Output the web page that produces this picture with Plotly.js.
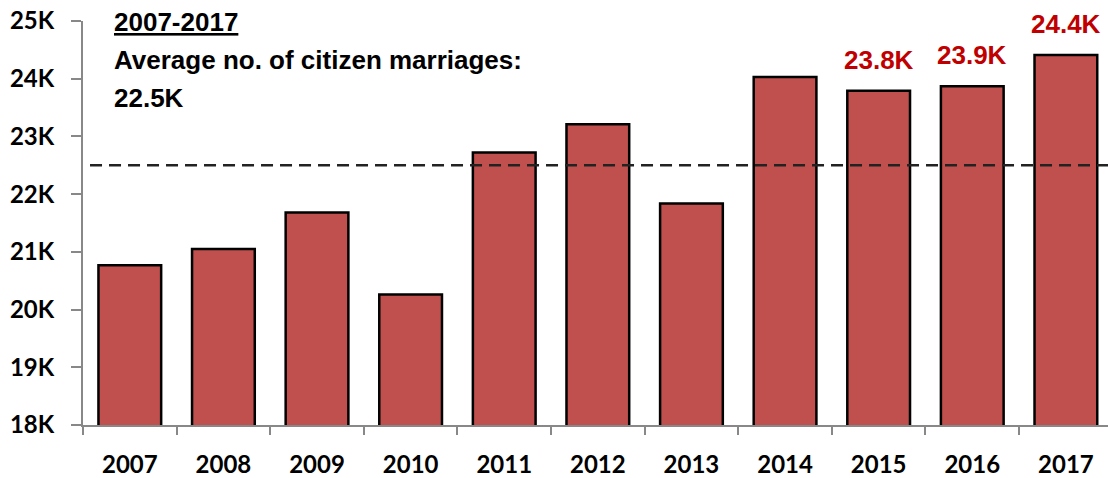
<!DOCTYPE html>
<html>
<head>
<meta charset="utf-8">
<script src="https://cdn.plot.ly/plotly-3.0.1.min.js"></script>
<style>html,body{margin:0;padding:0;background:#fff;}#chart{width:1108px;height:478px;}</style>
</head>
<body>
<div id="chart"></div>
<script>
var years = ["2007","2008","2009","2010","2011","2012","2013","2014","2015","2016","2017"];
var marriages = [20770, 21050, 21680, 20260, 22720, 23210, 21840, 24030, 23790, 23870, 24410];
var barLabels = ["", "", "", "", "", "", "", "", "23.8K", "23.9K", "24.4K"];
var averageValue = 22500;
var yTickVals = [18000, 19000, 20000, 21000, 22000, 23000, 24000, 25000];
var yTickText = ["18K", "19K", "20K", "21K", "22K", "23K", "24K", "25K"];
var titleLines = ["<u>2007-2017</u>", "Average no. of citizen marriages:", "22.5K"];

var FONT = "Lato, 'Liberation Sans', Arial, sans-serif";
var TFONT = "'Liberation Sans', Arial, sans-serif";

var trace = {
  type: "bar",
  x: years,
  y: marriages,
  width: 0.67,
  marker: {color: "#C0504D", line: {color: "#000000", width: 2.5}},
  hoverinfo: "none"
};

var annotations = [];
barLabels.forEach(function (t, i) {
  if (!t) return;
  annotations.push({
    x: i, y: marriages[i], xref: "x", yref: "y",
    text: "<b>" + t + "</b>", showarrow: false, yanchor: "bottom", yshift: 14,
    font: {family: TFONT, size: 26, color: "#C00000", weight: "bold"}
  });
});
var titleY = [0.9975, 0.9035, 0.809];
titleLines.forEach(function (t, i) {
  annotations.push({
    x: 0.0283, y: titleY[i], xref: "paper", yref: "paper",
    xanchor: "left", yanchor: "middle", text: t, showarrow: false,
    font: {family: TFONT, size: 26, color: "#000000", weight: "bold"}
  });
});

var layout = {
  width: 1108, height: 478,
  margin: {l: 83, r: 0, t: 21, b: 53, pad: 0},
  paper_bgcolor: "#ffffff", plot_bgcolor: "#ffffff",
  showlegend: false,
  font: {family: FONT, size: 24, color: "#000000", weight: "bold"},
  xaxis: {
    type: "category",
    range: [-0.5, 10.45],
    showline: true, linecolor: "#888888", linewidth: 2,
    ticks: "outside", tickson: "boundaries", ticklen: 8, tickwidth: 2, tickcolor: "#888888",
    ticklabelstandoff: 17,
    tickfont: {family: FONT, size: 24, color: "#000000", weight: "bold"},
    showgrid: false, zeroline: false, fixedrange: true
  },
  yaxis: {
    range: [18000, 25000],
    tickvals: yTickVals, ticktext: yTickText,
    showline: true, linecolor: "#888888", linewidth: 2,
    ticks: "outside", ticklen: 10, tickwidth: 2, tickcolor: "#888888",
    ticklabelstandoff: 12,
    tickfont: {family: FONT, size: 24, color: "#000000", weight: "bold"},
    showgrid: false, zeroline: false, fixedrange: true
  },
  shapes: [{
    type: "line", xref: "x", yref: "y",
    x0: -0.425, x1: 10.45, y0: averageValue, y1: averageValue,
    line: {color: "#222222", width: 2.5, dash: "12px,7px"},
    layer: "above"
  }],
  annotations: annotations
};

Plotly.newPlot("chart", [trace], layout, {displayModeBar: false, staticPlot: true});
</script>
</body>
</html>
